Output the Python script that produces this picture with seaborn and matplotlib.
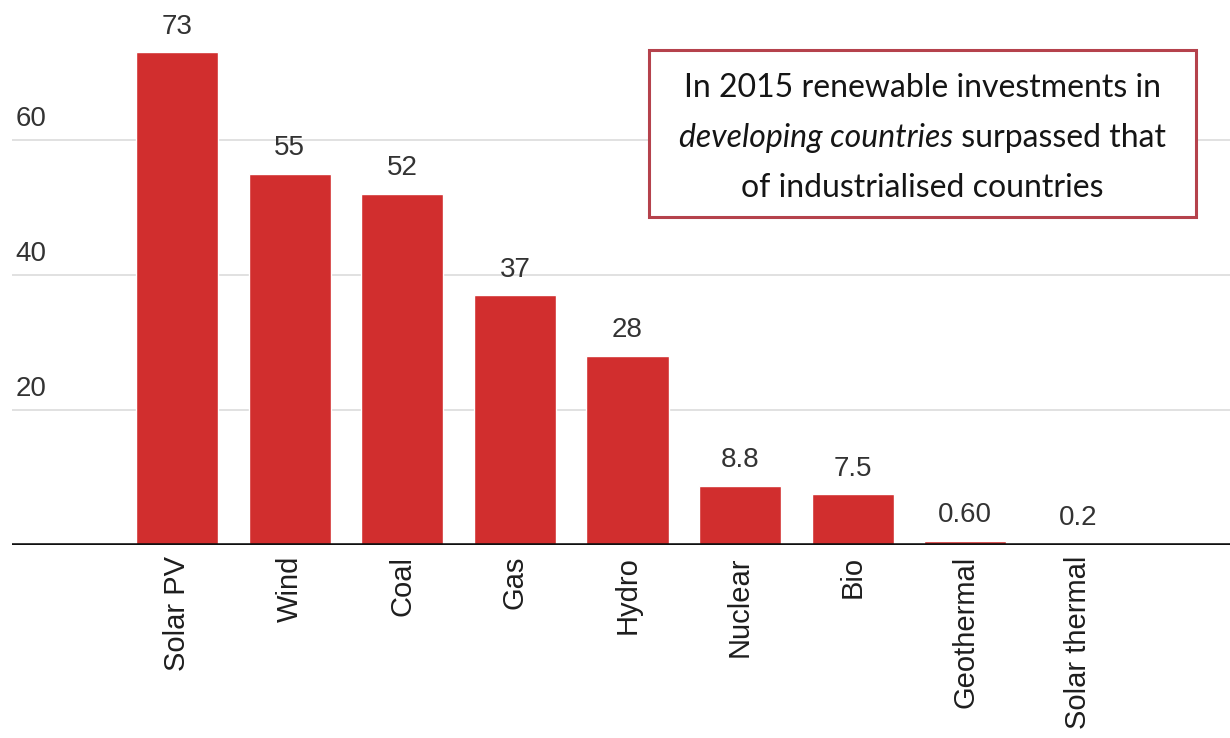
import matplotlib
matplotlib.use("Agg")
import matplotlib.pyplot as plt
import seaborn as sns
import pandas as pd
from matplotlib.patches import Rectangle

# Investment by technology (values as printed above the bars)
technologies = ["Solar PV", "Wind", "Coal", "Gas", "Hydro", "Nuclear", "Bio",
                "Geothermal", "Solar thermal"]
investment = [73, 55, 52, 37, 28, 8.8, 7.5, 0.60, 0.2]
value_labels = ["73", "55", "52", "37", "28", "8.8", "7.5", "0.60", "0.2"]
y_ticks = [20, 40, 60]

df = pd.DataFrame({"tech": technologies, "value": investment})

sns.set_style("white")
plt.rcParams["font.family"] = ["Liberation Sans", "DejaVu Sans"]

fig = plt.figure(figsize=(12.3, 7.38), dpi=100)
ax = fig.add_axes([0.0098, 0.2615, 0.9902, 0.7385])

sns.barplot(data=df, x="tech", y="value", color="#d12e2e", width=0.73,
            saturation=1, ax=ax, zorder=3)

ax.set_xlim(-1.465, 9.35)
ax.set_ylim(0, 80.7)

# grid lines with labels sitting on top of them
for t in y_ticks:
    ax.axhline(t, color="#dcdcdc", lw=1.2, zorder=1)
    ax.text(0.003, t + 1.2, str(t), transform=ax.get_yaxis_transform(),
            ha="left", va="bottom", fontsize=20, color="#333333")
ax.axhline(0, color="#111111", lw=2.6, zorder=4)

for i, (v, lab) in enumerate(zip(investment, value_labels)):
    ax.annotate(lab, (i, v), xytext=(0, 9), textcoords="offset points",
                ha="center", va="bottom", fontsize=20, color="#333333")

ax.set_yticks([])
ax.set_xlabel("")
ax.set_ylabel("")
ax.tick_params(axis="x", length=0, pad=8, labelsize=21, labelcolor="#1e1e1e")
plt.setp(ax.get_xticklabels(), rotation=90, va="top", ha="center")
sns.despine(ax=ax, left=True, bottom=True)

# annotation box
fig.patches.append(Rectangle((0.5276, 0.706), 0.4448, 0.2262, transform=fig.transFigure,
                             facecolor="white", edgecolor="#b5424c", lw=2.2, zorder=5))
box_font = ["Lato", "DejaVu Sans"]
fs = 23
fig.text(0.75, 0.8808, "In 2015 renewable investments in", ha="center", va="center",
         fontsize=fs, family=box_font, color="#151515", zorder=6)
fig.text(0.75, 0.745, "of industrialised countries", ha="center", va="center",
         fontsize=fs, family=box_font, color="#151515", zorder=6)

# mixed italic / regular middle line
renderer = fig.canvas.get_renderer()
t1 = fig.text(0, 0.813, "developing countries", ha="left", va="center", fontsize=fs,
              family=box_font, style="italic", color="#151515", zorder=6)
t2 = fig.text(0, 0.813, " surpassed that", ha="left", va="center", fontsize=fs,
              family=box_font, color="#151515", zorder=6)
w1 = t1.get_window_extent(renderer).width / fig.bbox.width
w2 = t2.get_window_extent(renderer).width / fig.bbox.width
x0 = 0.75 - (w1 + w2) / 2
t1.set_x(x0)
t2.set_x(x0 + w1)

fig.savefig("out.png", dpi=100)
